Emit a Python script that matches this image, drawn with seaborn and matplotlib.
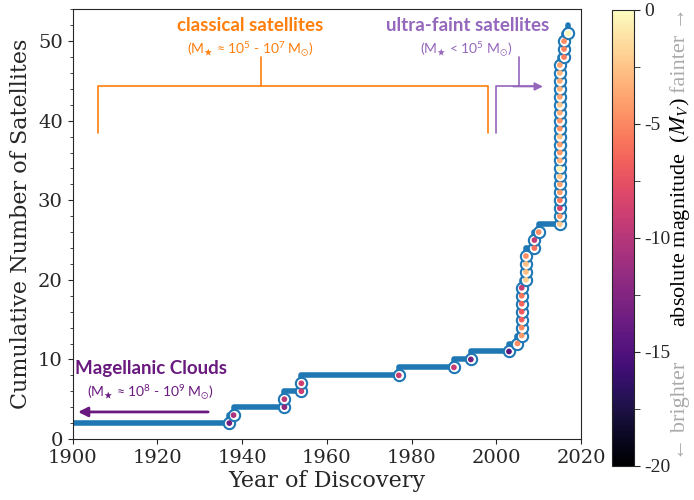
import numpy as np
import pandas as pd
import matplotlib
matplotlib.use("Agg")
import matplotlib.pyplot as plt
import seaborn as sns
from matplotlib.colors import Normalize
from matplotlib.cm import ScalarMappable
from matplotlib.ticker import MultipleLocator

# Milky Way satellites found after the two Magellanic Clouds
disc_year = [1937, 1938, 1950, 1950, 1954, 1954, 1977, 1990, 1994, 2003,
             2005,
             2006, 2006, 2006, 2006, 2006, 2006, 2006,
             2007, 2007, 2007, 2007,
             2009, 2009,
             2010,
             2015, 2015, 2015, 2015, 2015, 2015, 2015, 2015, 2015, 2015, 2015,
             2015, 2015, 2015, 2015, 2015, 2015, 2015, 2015, 2015, 2015,
             2016, 2016, 2016,
             2017]
abs_mag = [-13.3, -10.6, -12.0, -9.8, -9.0, -8.8, -9.2, -9.3, -13.2, -14.5,
           -4.8,
           -4.2, -5.0, -6.8, -7.0, -6.5, -5.8, -9.3,
           -2.0, -2.8, -2.8, -4.8,
           -6.0, -9.3,
           -4.8,
           -2.3, -4.3, -8.5, -5.6, -4.1, -3.9, -2.5, -0.5, -3.3, -4.3, -4.0,
           -2.6, -4.6, -4.4, -3.5, -2.4, -4.0, -3.3, -3.6, -3.2, -4.0,
           -5.5, -5.2, -4.8,
           -0.3]
N_MAGELLANIC = 2
START_YEAR = 1900

sns.set_style("ticks")
plt.rcParams["font.family"] = ["DejaVu Serif"]
plt.rcParams["axes.unicode_minus"] = False
plt.rcParams["mathtext.fontset"] = "stix"
plt.rcParams["mathtext.default"] = "regular"

df = pd.DataFrame({"year": disc_year, "mv": abs_mag})
df["n"] = np.arange(len(df)) + N_MAGELLANIC

# cumulative step line: 2 clouds until the first new discovery
steps = pd.DataFrame({"year": [START_YEAR] + disc_year,
                      "count": [N_MAGELLANIC] + list(df["n"] + 1)})

blue = "#1f77b4"
orange = "#ff7f0e"
purple = "#9467bd"
mc_col = "#6a1a7e"
sans = ["Lato", "DejaVu Sans"]

fig = plt.figure(figsize=(6.94, 5.0), dpi=100)
ax = fig.add_axes([0.1045, 0.122, 0.7327, 0.8594])

sns.lineplot(data=steps, x="year", y="count", estimator=None, sort=False,
             drawstyle="steps-post", color=blue, lw=4, ax=ax, zorder=1)
sns.scatterplot(data=df, x="year", y="n", s=66, color="white",
                edgecolor=blue, linewidth=1.5, ax=ax, zorder=2)
norm = Normalize(vmin=-20, vmax=0)
sns.scatterplot(data=df, x="year", y="n", hue="mv", palette="magma",
                hue_norm=norm, s=17, linewidth=0, legend=False, ax=ax, zorder=3)

ax.set_xlim(1900, 2020)
ax.set_ylim(0, 54)
ax.xaxis.set_major_locator(MultipleLocator(20))
ax.yaxis.set_major_locator(MultipleLocator(10))
ax.yaxis.set_minor_locator(MultipleLocator(2))
ax.tick_params(labelsize=14)
ax.set_xlabel("Year of Discovery", fontsize=16, labelpad=2)
ax.set_ylabel("Cumulative Number of Satellites", fontsize=16, labelpad=4)

# classical satellites bracket
ax.text(1942, 52.0, "classical satellites", color=orange, fontsize=13.5,
        fontweight="bold", family=sans, ha="center", va="center")
ax.text(1942, 49.0, r"(M$_{\bigstar}$ ≈ 10$^{5}$ - 10$^{7}$ M$_{\odot}$)",
        color=orange, fontsize=10, family=sans, ha="center", va="center")
ax.plot([1905.9, 1905.9, 1998.1, 1998.1], [38.4, 44.3, 44.3, 38.4],
        color=orange, lw=1.2)
ax.plot([1944.5, 1944.5], [44.3, 48.0], color=orange, lw=1.2)

# ultra-faint satellites bracket
ax.text(1993.2, 52.0, "ultra-faint satellites", color=purple, fontsize=13.5,
        fontweight="bold", family=sans, ha="center", va="center")
ax.text(1993.0, 49.0, r"(M$_{\bigstar}$ < 10$^{5}$ M$_{\odot}$)",
        color=purple, fontsize=10, family=sans, ha="center", va="center")
ax.plot([2000.0, 2000.0, 2009.0], [38.4, 44.3, 44.3], color=purple, lw=1.2)
ax.plot([2005.4, 2005.4], [44.3, 48.0], color=purple, lw=1.2)
ax.annotate("", xy=(2011.0, 44.3), xytext=(2004.0, 44.3),
            arrowprops=dict(arrowstyle="-|>", color=purple, lw=1.2,
                            mutation_scale=12, shrinkA=0, shrinkB=0))

# Magellanic Clouds
ax.text(1918.5, 8.8, "Magellanic Clouds", color=mc_col, fontsize=13.5,
        fontweight="bold", family=sans, ha="center", va="center")
ax.text(1918.4, 5.9, r"(M$_{\bigstar}$ ≈ 10$^{8}$ - 10$^{9}$ M$_{\odot}$)",
        color=mc_col, fontsize=10, family=sans, ha="center", va="center")
ax.annotate("", xy=(1901.3, 3.4), xytext=(1932.0, 3.4),
            arrowprops=dict(arrowstyle="-|>", color=mc_col, lw=2,
                            mutation_scale=14, shrinkA=0, shrinkB=0))

# colour bar
cax = fig.add_axes([0.8818, 0.068, 0.0317, 0.912])
sm = ScalarMappable(norm=norm, cmap="magma")
cb = fig.colorbar(sm, cax=cax)
cb.set_ticks([0, -5, -10, -15, -20])
cb.ax.yaxis.set_minor_locator(MultipleLocator(2.5))
cb.ax.tick_params(which="both", length=4, labelsize=14)
for t in cb.ax.get_yticklabels():
    t.set_family(["Liberation Serif", "DejaVu Serif"])
cb.outline.set_linewidth(0.8)

serif = ["Liberation Serif", "DejaVu Serif"]
fig.text(0.98, 0.90, "fainter →", rotation=90, color="#aaaaaa", fontsize=16,
         family=serif, ha="center", va="center")
fig.text(0.98, 0.576, r"absolute magnitude  ($\mathit{M_V}$)", rotation=90,
         color="black", fontsize=16, family=serif, ha="center", va="center")
fig.text(0.98, 0.178, "← brighter", rotation=90, color="#aaaaaa", fontsize=16,
         family=serif, ha="center", va="center")

fig.savefig("out.png", dpi=100)
